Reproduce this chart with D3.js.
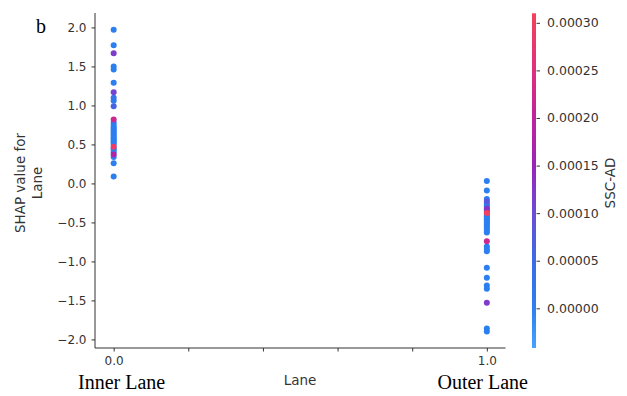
<!DOCTYPE html>
<html>
<head>
<meta charset="utf-8">
<script src="https://cdn.jsdelivr.net/npm/d3@7"></script>
<style>
  html, body { margin: 0; padding: 0; background: #fff; }
  svg { display: block; }
</style>
</head>
<body>
<div id="chart"></div>
<script>
(function() {
    'use strict';

    // data ==========================================================
    const laneValues = [0, 1];
    const laneNames = ['Inner Lane', 'Outer Lane'];
    const xTicks = [0, 0.2, 0.4, 0.6, 0.8, 1.0];
    const yTicks = [2.0, 1.5, 1.0, 0.5, 0.0, -0.5, -1.0, -1.5, -2.0];
    const cbTicks = [0, 0.00005, 0.0001, 0.00015, 0.0002, 0.00025, 0.0003];

    const innerShap = [1.97, 1.77, 1.67, 1.50, 1.46, 1.29, 1.17, 1.10, 1.06, 0.99,
        0.82, 0.78, 0.75, 0.72, 0.70, 0.68, 0.66, 0.64, 0.62, 0.60, 0.58, 0.56,
        0.54, 0.52, 0.50, 0.47, 0.45, 0.43, 0.40, 0.37, 0.34, 0.26, 0.09];
    const innerSsc = [0, 0, 0.00012, 0, 0, 0, 0.00011, 0.00003, 0, 0.00006,
        0.00022, 0, 0, 0, 0, 0, 0, 0, 0, 0, 0, 0,
        0, 0, 0, 0.00029, 0, 0, 0, 0.00018, 0, 0, 0];

    const outerShap = [0.03, -0.09, -0.20, -0.23, -0.26, -0.28, -0.30, -0.32, -0.34,
        -0.36, -0.38, -0.40, -0.42, -0.44, -0.46, -0.48, -0.50, -0.52, -0.54, -0.56,
        -0.58, -0.61, -0.63, -0.74, -0.81, -0.84, -0.87, -1.08, -1.21, -1.31, -1.35,
        -1.53, -1.86, -1.90];
    const outerSsc = [0, 0, 0, 0.00008, 0, 0, 0, 0.00012, 0.00013,
        0, 0.00030, 0, 0, 0, 0, 0, 0, 0, 0, 0,
        0, 0, 0, 0.00022, 0, 0, 0, 0, 0, 0, 0,
        0.00012, 0, 0];

    const points = [];
    innerShap.forEach((v, i) => points.push({ lane: laneValues[0], shap: v, ssc: innerSsc[i] }));
    outerShap.forEach((v, i) => points.push({ lane: laneValues[1], shap: v, ssc: outerSsc[i] }));
    points.sort((a, b) => a.ssc - b.ssc);

    // setup ========================================================
    const width = 627, height = 396;
    const axisColor = '#333333';
    const font = 'DejaVu Sans';

    const svg = d3.select('#chart').append('svg')
        .attr('width', width)
        .attr('height', height);

    const x = d3.scaleLinear().domain([-0.05, 1.05]).range([95, 505.5]);
    const y = d3.scaleLinear().domain([-2.11, 2.185]).range([348, 13]);

    // colour bar range (a bit past the ticks, like the reference)
    const cbMin = -0.0000417, cbMax = 0.00031;
    const color = d3.scaleLinear()
        .domain([cbMin, 0, 0.00005, 0.0001, 0.00015, 0.0002, 0.00025, cbMax])
        .range(['#48a2ff', '#2c7ff0', '#3c6ce6', '#6a4cd6', '#9a24b8', '#c0229c', '#e0307c', '#f4415c'])
        .interpolate(d3.interpolateRgb)
        .clamp(true);

    // axes ========================================================
    const yAxis = svg.append('g')
        .attr('transform', 'translate(95,0)')
        .call(d3.axisLeft(y).tickValues(yTicks).tickSize(3.5).tickPadding(5)
            .tickFormat(d => d3.format('.1f')(d).replace('-', '\u2212')));

    const xAxis = svg.append('g')
        .attr('transform', 'translate(0,348)')
        .call(d3.axisBottom(x).tickValues(xTicks).tickSize(3.5).tickPadding(5)
            .tickFormat(d => (d === 0 || d === 1) ? d3.format('.1f')(d) : ''));

    // plain spines without end caps
    yAxis.select('.domain').attr('d', `M0,${y.range()[1]}V${y.range()[0]}`);
    xAxis.select('.domain').attr('d', `M${x.range()[0]},0H${x.range()[1]}`);

    [yAxis, xAxis].forEach(ax => {
        ax.select('.domain').attr('stroke', axisColor).attr('stroke-width', 1);
        ax.selectAll('.tick line').attr('stroke', axisColor);
        ax.selectAll('.tick text')
            .attr('fill', axisColor)
            .style('font-family', font)
            .style('font-size', '12px');
    });

    // points ======================================================
    svg.append('g').selectAll('circle').data(points).enter().append('circle')
        .attr('cx', d => x(d.lane))
        .attr('cy', d => y(d.shap))
        .attr('r', 3)
        .attr('fill', d => color(d.ssc));

    // labels ======================================================
    const yLabel = svg.append('text')
        .attr('transform', 'translate(29,183) rotate(-90)')
        .attr('text-anchor', 'middle')
        .attr('fill', axisColor)
        .style('font-family', font)
        .style('font-size', '13.5px');
    yLabel.append('tspan').attr('x', 0).attr('dy', '-0.3em').text('SHAP value for');
    yLabel.append('tspan').attr('x', 0).attr('dy', '1.25em').text('Lane');

    svg.append('text')
        .attr('x', 300)
        .attr('y', 385)
        .attr('text-anchor', 'middle')
        .attr('fill', axisColor)
        .style('font-family', font)
        .style('font-size', '13.5px')
        .text('Lane');

    svg.selectAll('.lane-name').data(laneNames).enter().append('text')
        .attr('class', 'lane-name')
        .attr('x', (d, i) => i === 0 ? 78 : 528)
        .attr('y', 389)
        .attr('text-anchor', (d, i) => i === 0 ? 'start' : 'end')
        .attr('fill', '#000')
        .style('font-family', 'Liberation Serif')
        .style('font-size', '20px')
        .text(d => d);

    svg.append('text')
        .attr('x', 36)
        .attr('y', 33)
        .attr('fill', '#000')
        .style('font-family', 'Liberation Serif')
        .style('font-size', '20px')
        .text('b');

    // colorbar ====================================================
    const cb = d3.scaleLinear().domain([cbMin, cbMax]).range([348, 13.3]);
    const grad = svg.append('defs').append('linearGradient')
        .attr('id', 'cbGrad')
        .attr('x1', 0).attr('y1', 1).attr('x2', 0).attr('y2', 0);
    d3.range(0, 1.0001, 0.05).forEach(t => {
        grad.append('stop')
            .attr('offset', t)
            .attr('stop-color', color(cbMin + t * (cbMax - cbMin)));
    });
    svg.append('rect')
        .attr('x', 532)
        .attr('y', cb.range()[1])
        .attr('width', 4)
        .attr('height', cb.range()[0] - cb.range()[1])
        .attr('fill', 'url(#cbGrad)');

    const cbAxis = svg.append('g')
        .attr('transform', 'translate(536.5,0)')
        .call(d3.axisRight(cb).tickValues(cbTicks).tickSize(3.5).tickPadding(7)
            .tickFormat(d3.format('.5f')));
    cbAxis.select('.domain').remove();
    cbAxis.selectAll('.tick line').attr('stroke', axisColor);
    cbAxis.selectAll('.tick text')
        .attr('fill', axisColor)
        .style('font-family', font)
        .style('font-size', '12.5px');

    svg.append('text')
        .attr('transform', 'translate(615,183) rotate(-90)')
        .attr('text-anchor', 'middle')
        .attr('fill', axisColor)
        .style('font-family', font)
        .style('font-size', '13.5px')
        .text('SSC-AD');
}());
</script>
</body>
</html>
